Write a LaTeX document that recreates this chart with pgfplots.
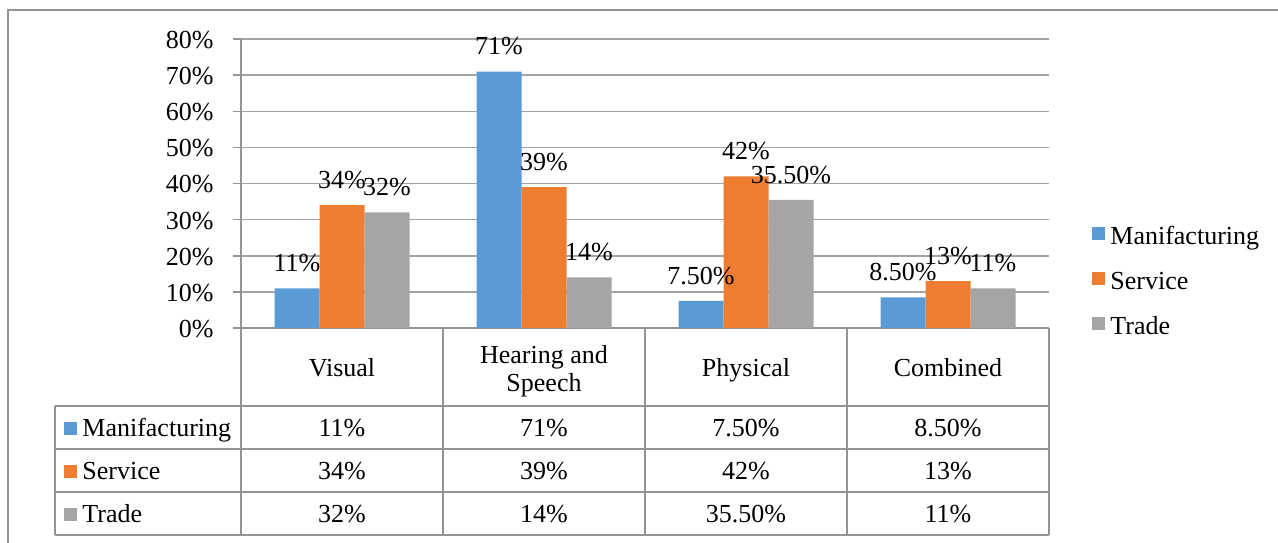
\documentclass[border=0pt]{standalone}
\usepackage{fontspec}
\setmainfont{Liberation Serif}
\usepackage{pgfplots}
\pgfplotsset{compat=1.18}
\usepackage{pgfplotstable}
\definecolor{cman}{HTML}{5B9BD5}
\definecolor{cser}{HTML}{ED7D31}
\definecolor{ctra}{HTML}{A5A5A5}
\definecolor{cgrid}{HTML}{A3A3A3}
\definecolor{cline}{HTML}{939393}

\pgfplotstableread{
x y lab
0 11 11
1 71 71
2 7.5 7.50
3 8.5 8.50
}\man
\pgfplotstableread{
x y lab
0 34 34
1 39 39
2 42 42
3 13 13
}\ser
\pgfplotstableread{
x y lab
0 32 32
1 14 14
2 35.5 35.50
3 11 11
}\tra

\begin{document}
\begin{tikzpicture}[font=\fontsize{13}{14}\selectfont]
\path[use as bounding box] (0,0) rectangle (639pt,-271pt);
\draw[cline, line width=1pt] (4pt,-280pt) -- (4pt,-5pt) -- (650pt,-5pt);
\begin{axis}[
  at={(120.5pt,-164pt)}, anchor=south west,
  width=404pt, height=144.5pt, scale only axis,
  xmin=-0.5, xmax=3.5, ymin=0, ymax=80,
  axis x line*=bottom, axis y line*=left,
  axis line style={cline, line width=0.75pt, -},
  xtick=\empty,
  ytick={0,10,...,80},
  yticklabels={0\%,10\%,20\%,30\%,40\%,50\%,60\%,70\%,80\%},
  ymajorgrids, grid style={cgrid, line width=0.75pt},
  tick align=outside, major tick length=4pt, ytick pos=left,
  ytick style={cline, line width=0.75pt},
  yticklabel style={anchor=east, inner sep=0pt, xshift=-9.5pt, yshift=-0.5pt},
  ybar=0pt, bar width=22.5pt,
  nodes near coords={\pgfplotspointmeta\%},
  point meta=explicit symbolic,
  nodes near coords style={anchor=center, yshift=12.5pt, inner sep=0pt, text=black},
  legend image code/.code={\fill[#1] (0pt,-1pt) rectangle (6.5pt,5.5pt);},
  legend cell align=left,
  legend style={draw=none, fill=none, inner sep=0pt, at={(1.0532,0.155)}, anchor=west,
    row sep=10.5pt, column sep=2.5pt,
    nodes={inner sep=0pt, text height=9pt, text depth=3pt}},
]
\addplot[fill=cman, draw=none] table[x=x, y=y, meta=lab]{\man};
\addplot[fill=cser, draw=none] table[x=x, y=y, meta=lab]{\ser};
\addplot[fill=ctra, draw=none] table[x=x, y=y, meta=lab]{\tra};
\legend{Manifacturing, Service, Trade}
\end{axis}
\begin{scope}[x=0.5pt, y=-0.5pt]
  \foreach \xx in {241,443,645,847,1049} {\draw[cline, line width=0.75pt] (\xx,328) -- (\xx,535);}
  \foreach \yy in {406,449,492,535} {\draw[cline, line width=0.75pt] (55,\yy) -- (1049,\yy);}
  \draw[cline, line width=0.75pt] (55,406) -- (55,535);
  \node[anchor=base] at (342,376.5) {Visual};
  \node[align=center, anchor=center] at (544,371) {Hearing and\\Speech};
  \node[anchor=base] at (746,376.5) {Physical};
  \node[anchor=base] at (948,376.5) {Combined};
  \fill[cman] (64,435) rectangle (77,422);
  \fill[cser] (64,478) rectangle (77,465);
  \fill[ctra] (64,521) rectangle (77,508);
  \node[anchor=base west, inner sep=0pt] at (82,436) {Manifacturing};
  \node[anchor=base west, inner sep=0pt] at (82,479) {Service};
  \node[anchor=base west, inner sep=0pt] at (82,522) {Trade};
  \node[anchor=base] at (342,436) {11\%};
  \node[anchor=base] at (544,436) {71\%};
  \node[anchor=base] at (746,436) {7.50\%};
  \node[anchor=base] at (948,436) {8.50\%};
  \node[anchor=base] at (342,479) {34\%};
  \node[anchor=base] at (544,479) {39\%};
  \node[anchor=base] at (746,479) {42\%};
  \node[anchor=base] at (948,479) {13\%};
  \node[anchor=base] at (342,522) {32\%};
  \node[anchor=base] at (544,522) {14\%};
  \node[anchor=base] at (746,522) {35.50\%};
  \node[anchor=base] at (948,522) {11\%};
\end{scope}
\end{tikzpicture}
\end{document}
